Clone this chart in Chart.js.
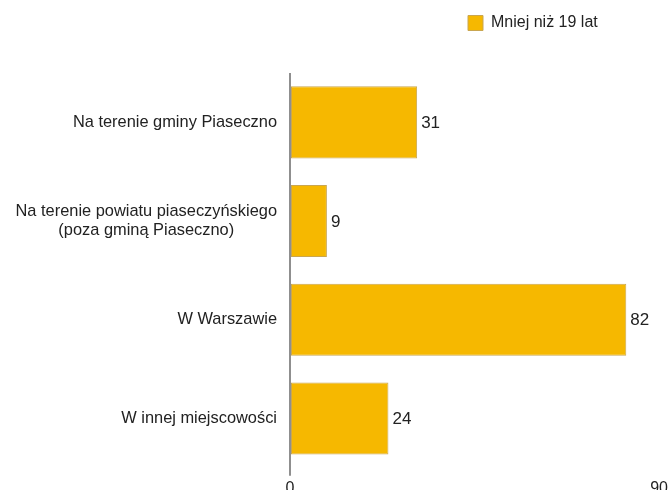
<!DOCTYPE html>
<html>
<head>
<meta charset="utf-8">
<script src="https://cdn.jsdelivr.net/npm/chart.js@4.4.0/dist/chart.umd.min.js"></script>
<style>
  html, body { margin: 0; padding: 0; overflow: hidden; background: #fff; }
  #clip { width: 669px; height: 490px; overflow: hidden; position: relative; }
  #wrap { width: 671px; height: 501px; position: relative; }
</style>
</head>
<body>
<div id="clip"><div id="wrap"><canvas id="chart"></canvas></div></div>
<script>
// Data
const categories = [
    ['Na terenie gminy Piaseczno'],
    ['Na terenie powiatu piaseczyńskiego', '(poza gminą Piaseczno)'],
    ['W Warszawie'],
    ['W innej miejscowości']
];
const seriesName = 'Mniej niż 19 lat';
const values = [31, 9, 82, 24];
const xTicks = [0, 90];

const FONT = '"Liberation Sans", Arial, Helvetica, sans-serif';
Chart.defaults.font.family = FONT;
Chart.defaults.color = '#222';

// Category labels: each block centred on itself, block right-aligned to the axis
const categoryLabels = {
    id: 'categoryLabels',
    afterDraw(chart) {
        const ctx = chart.ctx;
        const yScale = chart.scales.y;
        const right = chart.chartArea.left - 13;
        const lh = 19;
        ctx.save();
        ctx.font = '16.4px ' + FONT;
        ctx.fillStyle = '#222';
        ctx.textAlign = 'center';
        ctx.textBaseline = 'middle';
        categories.forEach((lines, i) => {
            const py = yScale.getPixelForTick(i);
            const maxW = Math.max(...lines.map(l => ctx.measureText(l).width));
            const cx = right - maxW / 2;
            const y0 = py - lh * (lines.length - 1) / 2;
            lines.forEach((l, j) => ctx.fillText(l, cx, y0 + j * lh));
        });
        ctx.restore();
    }
};

// Value labels at the end of each bar
const valueLabels = {
    id: 'valueLabels',
    afterDatasetsDraw(chart) {
        const ctx = chart.ctx;
        const meta = chart.getDatasetMeta(0);
        ctx.save();
        ctx.font = '17px ' + FONT;
        ctx.fillStyle = '#222';
        ctx.textAlign = 'left';
        ctx.textBaseline = 'middle';
        meta.data.forEach((bar, i) => {
            ctx.fillText(String(values[i]), bar.x + 4, bar.y + 1);
        });
        ctx.restore();
    }
};

// Legend placement (top right, above the plot)
const legendPlace = {
    id: 'legendPlace',
    beforeInit(chart) {
        const fit = chart.legend.fit;
        chart.legend.fit = function () {
            fit.call(this);
            this.height = 73;
        };
    },
    afterLayout(chart) {
        chart.legend.left = 458;
        chart.legend.top = 5;
    }
};

new Chart(document.getElementById('chart'), {
    type: 'bar',
    data: {
        labels: categories,
        datasets: [{
            label: seriesName,
            data: values,
            backgroundColor: '#f6b800',
            borderColor: '#c9a650',
            borderWidth: 1,
            borderSkipped: false,
            barPercentage: 0.73,
            categoryPercentage: 1
        }]
    },
    options: {
        indexAxis: 'y',
        responsive: true,
        maintainAspectRatio: false,
        animation: false,
        layout: { padding: { left: 0, right: 0, top: 0, bottom: 0 } },
        plugins: {
            legend: {
                position: 'top',
                align: 'start',
                labels: {
                    boxWidth: 15,
                    boxHeight: 15,
                    padding: 10,
                    color: '#222',
                    font: { size: 16 }
                }
            },
            tooltip: { enabled: false }
        },
        scales: {
            x: {
                min: xTicks[0],
                max: xTicks[xTicks.length - 1],
                afterBuildTicks: s => { s.ticks = xTicks.map(v => ({ value: v })); },
                border: { display: false },
                grid: {
                    drawOnChartArea: true,
                    drawTicks: true,
                    tickLength: 8,
                    lineWidth: 2,
                    color: c => (c.tick && c.tick.value === 0 ? '#8f8f8f' : 'transparent')
                },
                ticks: { color: '#222', font: { size: 16 }, padding: 3, maxRotation: 0 }
            },
            y: {
                afterFit: s => { s.width = 290; },
                border: { display: false },
                grid: { display: false },
                ticks: { display: false }
            }
        }
    },
    plugins: [categoryLabels, valueLabels, legendPlace]
});
</script>
</body>
</html>
